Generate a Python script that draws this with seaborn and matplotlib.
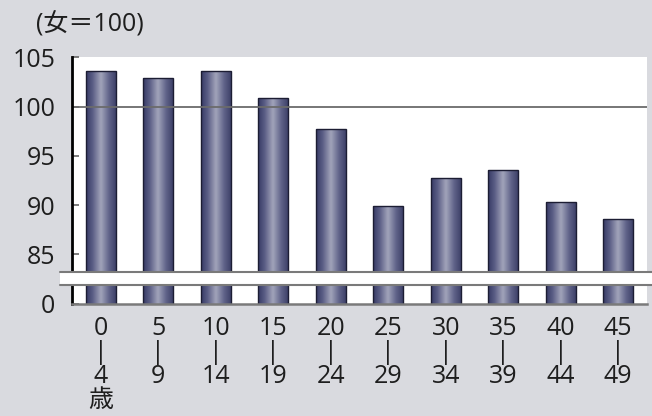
import numpy as np
import pandas as pd
import matplotlib
matplotlib.use("Agg")
import matplotlib.pyplot as plt
import matplotlib.transforms as mtransforms
from matplotlib.colors import LinearSegmentedColormap
import seaborn as sns

# Sex ratio by age group (females = 100)
age_groups = ["0\n|\n4\n歳", "5\n|\n9", "10\n|\n14", "15\n|\n19", "20\n|\n24",
              "25\n|\n29", "30\n|\n34", "35\n|\n39", "40\n|\n44", "45\n|\n49"]
sex_ratio = [103.6, 102.9, 103.6, 100.9, 97.7, 89.9, 92.7, 93.6, 90.3, 88.6]

y_ticks = [80, 85, 90, 95, 100, 105]
y_tick_labels = ["0", "85", "90", "95", "100", "105"]

sns.set_theme(style="white")
plt.rcParams["font.family"] = ["Open Sans", "Noto Sans CJK JP", "DejaVu Sans"]

BG = "#d9dadf"
TXT = "#1e1e1e"
fig = plt.figure(figsize=(6.52, 4.16), dpi=100, facecolor=BG)
ax = fig.add_axes([0.1104, 0.2704, 0.9923 - 0.1104, 0.8623 - 0.2704])
ax.set_facecolor("white")

df = pd.DataFrame({"age": age_groups, "ratio": sex_ratio})
sns.barplot(data=df, x="age", y="ratio", ax=ax, width=0.515,
            color="#4a4d75", edgecolor="#1c1d33", linewidth=1.0,
            saturation=1, zorder=2)

# cylinder-like horizontal shading on each bar
shade = LinearSegmentedColormap.from_list(
    "cyl", [(0.0, "#363a64"), (0.22, "#5a5d85"), (0.5, "#a2a4ba"),
            (0.78, "#5f6288"), (1.0, "#3e4169")])
grad = np.linspace(0, 1, 256).reshape(1, -1)
for p in ax.patches:
    x0 = p.get_x()
    w = p.get_width()
    h = p.get_height()
    im = ax.imshow(grad, cmap=shade, aspect="auto",
                   extent=[x0, x0 + w, 80, h], zorder=1.5,
                   interpolation="bicubic")
    im.set_clip_path(p)
    p.set_facecolor("none")
ax.set_xlim(-0.5, len(age_groups) - 0.5)
ax.set_ylim(80, 105)

# reference line at 100
ax.axhline(100, color="#6b6b6b", lw=1.3, zorder=3)

# axis styling
for s in ["top", "right"]:
    ax.spines[s].set_visible(False)
ax.spines["left"].set_edgecolor("#000000")
ax.spines["left"].set_linewidth(2.0)
ax.spines["left"].set_zorder(4)
ax.spines["bottom"].set_edgecolor("#7a7a7a")
ax.spines["bottom"].set_linewidth(1.8)
ax.spines["bottom"].set_zorder(4)

ax.set_yticks(y_ticks)
ax.set_yticklabels(y_tick_labels)
ax.tick_params(axis="y", direction="in", length=5, width=1.2, color="#666666",
               pad=12, labelsize=18, labelcolor=TXT, left=True)
ax.tick_params(axis="x", length=0, pad=9, labelsize=18, labelcolor=TXT)
for lbl in ax.get_xticklabels():
    lbl.set_linespacing(0.95)
    lbl.set_verticalalignment("top")
ax.set_xlabel("")
ax.set_ylabel("")

# axis break band between 0 and 85
trans = mtransforms.blended_transform_factory(fig.transFigure, ax.transData)
band_lo, band_hi = 81.85, 83.15
x_start = 60 / 652
ax.add_patch(plt.Rectangle((x_start, band_lo), 1 - x_start, band_hi - band_lo,
                           transform=trans, facecolor="white", edgecolor="none",
                           clip_on=False, zorder=5))
for yv in (band_lo, band_hi):
    ax.add_line(plt.Line2D([x_start, 1.0], [yv, yv], transform=trans,
                           color="#7a7a7a", lw=1.5, clip_on=False, zorder=6))

fig.text(36 / 652, 1 - 25 / 416, "(女＝100)", fontsize=18, color=TXT,
         ha="left", va="center")

fig.savefig("out.png", dpi=100, facecolor=BG)
